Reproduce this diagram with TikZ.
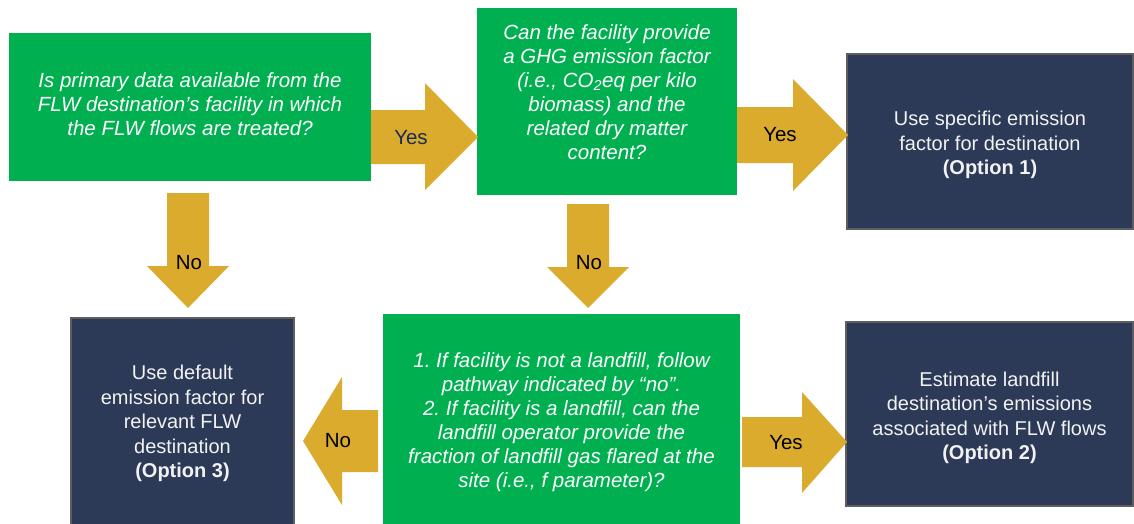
\documentclass[tikz,border=0pt]{standalone}
\usepackage{fontspec}
\setmainfont{Liberation Sans}
\frenchspacing
\definecolor{qgreen}{HTML}{00B050}
\definecolor{gold}{HTML}{DAAB2C}
\definecolor{navy}{HTML}{2C3A57}
\definecolor{edge}{HTML}{5E5E5E}
\definecolor{yesblue}{HTML}{1C2A55}
\begin{document}
\begin{tikzpicture}[x=1pt,y=-1pt,
  every node/.style={inner sep=0pt, outer sep=0pt},
  question/.style={fill=qgreen},
  outcome/.style={fill=navy, draw=edge, line width=2pt},
  qtext/.style={text=white, align=center,
    font=\fontsize{20.5}{24}\selectfont\itshape},
  otext/.style={text=white!95!black, align=center,
    font=\fontsize{20}{24.5}\selectfont},
  arrowbody/.style={fill=gold},
  arrowlabel/.style={font=\fontsize{20.5}{24}\selectfont, text=black}]
\clip (0,0) rectangle (1134,523);
\fill[white] (0,0) rectangle (1134,523);

% decision boxes
\node[question, minimum width=362pt, minimum height=148pt] (qa) at (190,107) {};
\node[question, minimum width=260pt, minimum height=187pt] (qb) at (607,101.5) {};
\node[question, minimum width=357pt, minimum height=211pt] (qc) at (561.5,419.5) {};
\node[qtext, yshift=3pt] (qatext) at (qa.center)
  {Is primary data available from the\\FLW destination’s facility in which\\the FLW flows are treated?};
\node[qtext, yshift=9pt] (qbtext) at (qb.center)
  {Can the facility provide\\a GHG emission factor\\(i.e., CO\textsubscript{2}eq per kilo\\biomass) and the\\related dry matter\\content?};
\node[qtext, yshift=-3pt] (qctext) at (qc.center)
  {1. If facility is not a landfill, follow\\pathway indicated by “no”.\\2. If facility is a landfill, can the\\landfill operator provide the\\fraction of landfill gas flared at the\\site (i.e., f parameter)?};

% outcome boxes
\node[outcome, minimum width=286pt, minimum height=175pt] (o1) at (990,141.5) {};
\node[outcome, minimum width=287pt, minimum height=184pt] (o2) at (989.5,414) {};
\node[outcome, minimum width=223pt, minimum height=207pt] (o3) at (182.5,421.5) {};
\node[otext, yshift=-3.5pt] (o1text) at (o1.center)
  {Use specific emission\\factor for destination\\\textbf{(Option 1)}};
\node[otext, yshift=-4pt] (o2text) at (o2.center)
  {Estimate landfill\\destination’s emissions\\associated with FLW flows\\\textbf{(Option 2)}};
\node[otext, yshift=-2pt] (o3text) at (o3.center)
  {Use default\\emission factor for\\relevant FLW\\destination\\\textbf{(Option 3)}};

% block arrows between the boxes
\fill[arrowbody] (371,110) -- (425,110) -- (425,83) -- (478,137) -- (425,190) -- (425,164) -- (371,164) -- cycle;
\fill[arrowbody] (737,107) -- (793,107) -- (793,79) -- (848,135) -- (793,191) -- (793,163) -- (737,163) -- cycle;
\fill[arrowbody] (742,417) -- (802,417) -- (802,392) -- (847,442) -- (802,493) -- (802,467) -- (742,467) -- cycle;
\fill[arrowbody] (167,193) -- (209,193) -- (209,266) -- (229,266) -- (188,308) -- (147,266) -- (167,266) -- cycle;
\fill[arrowbody] (567,204) -- (609,204) -- (609,267) -- (629,267) -- (588,308) -- (547,267) -- (567,267) -- cycle;
\fill[arrowbody] (378,410) -- (342,410) -- (342,377) -- (303,441) -- (342,505) -- (342,472) -- (378,472) -- cycle;

% arrow labels
\node[arrowlabel, text=yesblue] (ya) at (411,138) {Yes};
\node[arrowlabel] (yb) at (780,135) {Yes};
\node[arrowlabel] (yc) at (786,443) {Yes};
\node[arrowlabel] (na) at (189,263) {No};
\node[arrowlabel] (nb) at (589,263) {No};
\node[arrowlabel] (nc) at (338,441) {No};
\end{tikzpicture}
\end{document}
